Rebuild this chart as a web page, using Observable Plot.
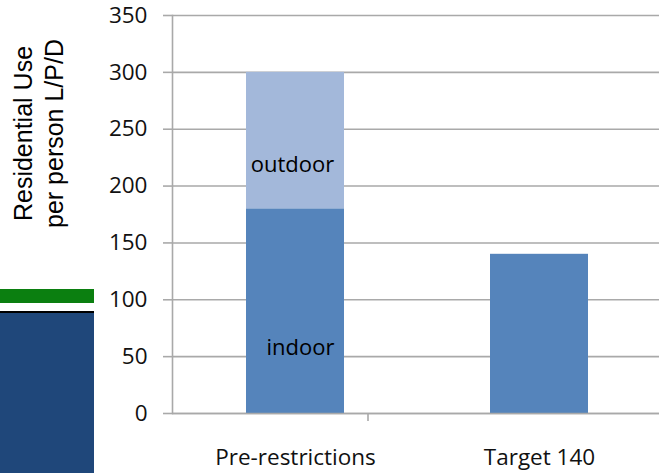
<!DOCTYPE html>
<html>
<head>
<meta charset="utf-8">
<script src="https://cdn.jsdelivr.net/npm/d3@7"></script>
<script src="https://cdn.jsdelivr.net/npm/@observablehq/plot@0.6"></script>
<style>
  html, body { margin: 0; padding: 0; background: #fff; }
  #wrap { position: relative; width: 659px; height: 473px; overflow: hidden; }
  .deco { position: absolute; left: 0; width: 94px; }
</style>
</head>
<body>
<div id="wrap">
  <div id="chart"></div>
  <div class="deco" style="top:289px;height:14px;background:#0b7f10;"></div>
  <div class="deco" style="top:311px;height:2px;background:#000;"></div>
  <div class="deco" style="top:313px;height:160px;background:#1f477a;"></div>
</div>
<script>
// ---- data ----
const categories = ["Pre-restrictions", "Target 140"];
const seriesNames = ["indoor", "outdoor"];
const indoor = [180, 140];
const outdoor = [120, 0];
const yTicks = [0, 50, 100, 150, 200, 250, 300, 350];
const yTitle = "Residential Use\nper person L/P/D";
const seriesColors = ["#5584bb", "#a3b8da"];

const rows = [];
categories.forEach((c, i) => {
  rows.push({category: c, series: seriesNames[0], value: indoor[i]});
  rows.push({category: c, series: seriesNames[1], value: outdoor[i]});
});

const grid = "#a9a9a9";
const font = "'Open Sans', sans-serif";

const plot = Plot.plot({
  width: 659,
  height: 473,
  marginLeft: 172,
  marginRight: 0,
  marginTop: 15,
  marginBottom: 60,
  style: {fontFamily: font, fontSize: "22px", background: "#fff", overflow: "visible"},
  x: {domain: categories, range: [172, 661], paddingInner: 0.6, paddingOuter: 0.3, label: null},
  y: {domain: [0, 350], label: null},
  color: {domain: seriesNames, range: seriesColors},
  marks: [
    Plot.gridY(yTicks, {stroke: grid, strokeOpacity: 1, strokeWidth: 1.6}),
    Plot.barY(rows, Plot.stackY({x: "category", y: "value", fill: "series", order: null})),
    Plot.frame({anchor: "left", stroke: grid, strokeWidth: 1.6}),
    Plot.ruleY([0], {stroke: grid, strokeWidth: 1.6}),
    Plot.axisY(yTicks, {tickSize: 9, tickPadding: 16, stroke: grid, strokeWidth: 1.6, fill: "#111", fontSize: 22.5, fontFamily: font, label: null}),
    Plot.axisX({tickSize: 0, tickPadding: 36, fill: "#111", fontSize: 22.5, fontFamily: font, label: null}),
    // segment labels on the first bar
    Plot.text([{category: categories[0], y: indoor[0] + outdoor[0] / 2, t: seriesNames[1]}],
      {x: "category", y: "y", text: "t", dy: 24, dx: -3, fill: "#000", fontSize: 22, fontFamily: font}),
    Plot.text([{category: categories[0], y: indoor[0] / 2, t: seriesNames[0]}],
      {x: "category", y: "y", text: "t", dy: 37, dx: 5, fill: "#000", fontSize: 22, fontFamily: font}),
    // y axis title
    Plot.text([yTitle], {frameAnchor: "top-left", rotate: -90, dx: -135, dy: 118,
      textAnchor: "middle", lineAnchor: "middle", lineHeight: 1.24,
      fontSize: 25, fontFamily: "'Liberation Sans', Arial, sans-serif", fill: "#000"})
  ]
});

// small separator tick between the two category bands, from the x scale
const xs = plot.scale("x");
const x0 = xs.apply(categories[0]);
const x1 = xs.apply(categories[1]);
const boundary = (x0 + x1) / 2;
const ys = plot.scale("y");
const y0 = ys.apply(0);
d3.select(plot).append("line")
  .attr("x1", boundary).attr("x2", boundary)
  .attr("y1", y0).attr("y2", y0 + 8)
  .attr("stroke", grid).attr("stroke-width", 1.6);

document.getElementById("chart").appendChild(plot);
</script>
</body>
</html>
